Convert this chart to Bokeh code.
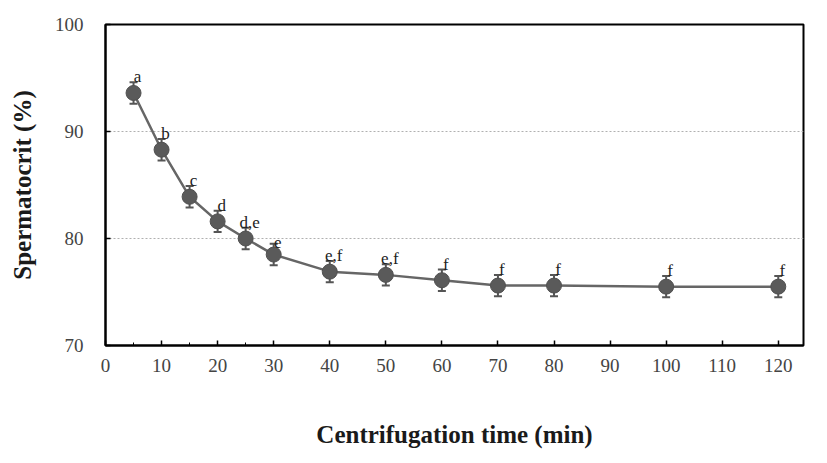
from bokeh.plotting import figure
from bokeh.models import ColumnDataSource, FixedTicker, Whisker, Range1d
from bokeh.embed import file_html
from bokeh.resources import INLINE
from bokeh.core.properties import value

time_min = [5, 10, 15, 20, 25, 30, 40, 50, 60, 70, 80, 100, 120]
spermatocrit = [93.6, 88.3, 83.9, 81.6, 80.0, 78.5, 76.9, 76.6, 76.1, 75.6, 75.6, 75.5, 75.5]
sem = [1.0, 1.0, 1.0, 1.0, 1.0, 1.0, 1.0, 1.0, 1.0, 1.0, 1.0, 1.0, 1.0]
letters = ["a", "b", "c", "d", "d,e", "e", "e,f", "e,f", "f", "f", "f", "f", "f"]
x_ticks = [0, 10, 20, 30, 40, 50, 60, 70, 80, 90, 100, 110, 120]
y_ticks = [70, 80, 90, 100]

src = ColumnDataSource(dict(
    x=time_min, y=spermatocrit,
    lo=[v - e for v, e in zip(spermatocrit, sem)],
    hi=[v + e for v, e in zip(spermatocrit, sem)],
    lab=letters,
))

serif = "Liberation Serif"
p = figure(width=827, height=463, output_backend="svg", toolbar_location=None,
           x_range=Range1d(0, 124.5), y_range=Range1d(70, 100),
           min_border_left=105, min_border_right=24, min_border_top=24, min_border_bottom=118)
p.background_fill_color = "white"
p.border_fill_color = "white"
p.outline_line_color = "black"
p.outline_line_width = 2
p.xgrid.grid_line_color = None
p.ygrid.ticker = FixedTicker(ticks=[80, 90])
p.ygrid.grid_line_color = "#b0b0b0"
p.ygrid.grid_line_dash = "2 2"
p.ygrid.grid_line_width = 1.2

p.xaxis.ticker = FixedTicker(ticks=x_ticks, minor_ticks=[5, 15, 25])
p.yaxis.ticker = FixedTicker(ticks=y_ticks)
for ax in (p.xaxis[0], p.yaxis[0]):
    ax.axis_line_color = "black"
    ax.axis_line_width = 2
    ax.major_tick_in = 5
    ax.major_tick_out = 0
    ax.major_tick_line_width = 1.5
    ax.major_tick_line_color = "black"
    ax.major_label_text_font = serif
    ax.major_label_text_font_size = "19px"
    ax.major_label_text_color = "#444444"
    ax.axis_label_text_font = serif
    ax.axis_label_text_font_style = "bold"
    ax.axis_label_text_font_size = "25px"
    ax.axis_label_text_color = "#1a1a1a"
p.xaxis.minor_tick_in = 3
p.xaxis.minor_tick_out = 0
p.xaxis.minor_tick_line_color = "black"
p.yaxis.minor_tick_line_color = None
p.xaxis.major_label_standoff = 13
p.yaxis.major_label_standoff = 22
p.xaxis.axis_label = "Centrifugation time (min)"
p.yaxis.axis_label = "Spermatocrit (%)"
p.xaxis.axis_label_standoff = 46
p.yaxis.axis_label_standoff = 16

p.line("x", "y", source=src, line_color="#666666", line_width=2.5)
w = Whisker(source=src, base="x", lower="lo", upper="hi",
            line_color="#555555", line_width=2)
w.upper_head.size = 8
w.lower_head.size = 8
w.upper_head.line_color = "#555555"
w.lower_head.line_color = "#555555"
w.upper_head.line_width = 2
w.lower_head.line_width = 2
p.add_layout(w)
p.scatter("x", "y", source=src, size=15, fill_color="#5a5a5a", line_color="#505050")
p.text("x", "hi", text="lab", source=src, text_font=value(serif), text_font_size="17px",
       text_align="center", text_baseline="bottom", x_offset=4, y_offset=4,
       text_color="#222222")

open("out.html", "w").write(file_html(p, INLINE))
